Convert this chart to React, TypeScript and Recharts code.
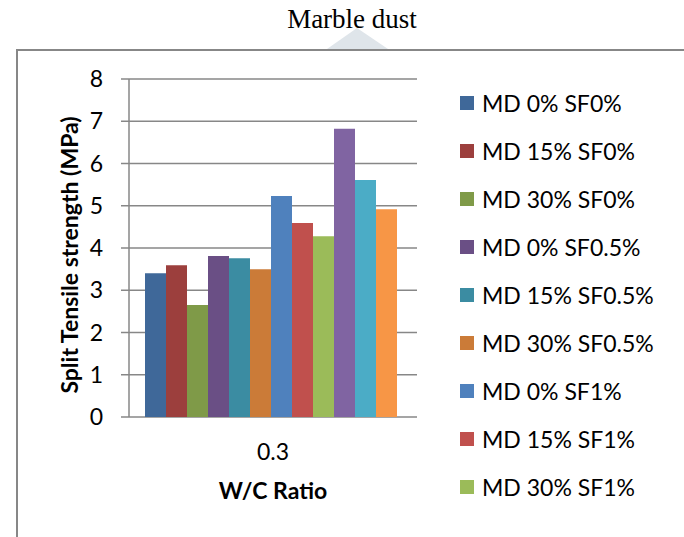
import React from "react";
import { BarChart, Bar, XAxis, YAxis, CartesianGrid, Legend } from "recharts";

// W/C ratio categories
const categories = ["0.3"];

const seriesNames = [
  "MD 0% SF0%",
  "MD 15% SF0%",
  "MD 30% SF0%",
  "MD 0% SF0.5%",
  "MD 15% SF0.5%",
  "MD 30% SF0.5%",
  "MD 0% SF1%",
  "MD 15% SF1%",
  "MD 30% SF1%",
  "MD 0% SF1.5%",
  "MD 15% SF1.5%",
  "MD 30% SF1.5%",
];

// split tensile strength (MPa) at w/c 0.3
const seriesValues = [3.4, 3.59, 2.65, 3.81, 3.76, 3.5, 5.23, 4.59, 4.28, 6.82, 5.61, 4.92];

const seriesColors = [
  "#3f6899",
  "#9c3f3d",
  "#7f9a48",
  "#6a4f85",
  "#3b8ca2",
  "#cb7b38",
  "#4f81bd",
  "#c0504d",
  "#9bbb59",
  "#8064a2",
  "#4bacc6",
  "#f79646",
];

const yTicks = [0, 1, 2, 3, 4, 5, 6, 7, 8];

// the legend box only has room for the first 9 entries (rest truncated like the original)
const LEGEND_ROWS = 9;

const FONT = "Lato, 'Open Sans', sans-serif";
const FS = 23;
const GRID = "#878787";

const chartData = categories.map((wc, ci) => {
  const row: Record<string, string | number> = { wc };
  seriesNames.forEach((_, i) => {
    row[`s${i}`] = seriesValues[i + ci * seriesNames.length];
  });
  return row;
});

function YLabel() {
  return (
    <text
      x={69}
      y={255}
      transform="rotate(-90 69 255)"
      textAnchor="middle"
      dominantBaseline="central"
      fontFamily={FONT}
      fontWeight={700}
      fontSize={FS}
      fill="#000"
    >
      Split Tensile strength (MPa)
    </text>
  );
}

function LegendList() {
  return (
    <div style={{ fontFamily: FONT, fontSize: FS, color: "#000" }}>
      {seriesNames.slice(0, LEGEND_ROWS).map((name, i) => (
        <div
          key={name}
          style={{ height: 48, display: "flex", alignItems: "center" }}
        >
          <span
            style={{
              width: 14,
              height: 14,
              background: seriesColors[i],
              display: "inline-block",
              marginRight: 8,
            }}
          />
          <span>{name}</span>
        </div>
      ))}
    </div>
  );
}

export default function App() {
  return (
    <div
      style={{
        position: "absolute",
        left: 0,
        top: 0,
        width: 684,
        height: 537,
        overflow: "hidden",
        background: "#fff",
      }}
    >
      <svg
        width={684}
        height={60}
        style={{ position: "absolute", left: 0, top: 0 }}
      >
        <polygon points="327,49 357,28 388,49" fill="#dfe5ea" />
        <text
          x={352}
          y={28}
          textAnchor="middle"
          fontFamily="'Liberation Serif', 'Times New Roman', serif"
          fontSize={27}
          fill="#000"
        >
          Marble dust
        </text>
      </svg>
      <div
        style={{
          position: "absolute",
          left: 16,
          top: 49,
          width: 700,
          height: 600,
          borderLeft: `2px solid ${GRID}`,
          borderTop: `2px solid ${GRID}`,
        }}
      />
      <div style={{ position: "absolute", left: 0, top: 0 }}>
        <BarChart
          width={684}
          height={537}
          data={chartData}
          margin={{ top: 79, right: 43, bottom: 0, left: 0 }}
          barCategoryGap={16}
          barGap={0}
        >
          <CartesianGrid vertical={false} stroke={GRID} strokeWidth={1.5} />
          <XAxis
            xAxisId="edges"
            type="number"
            domain={[0, 1]}
            ticks={[0, 1]}
            tick={false}
            tickSize={7}
            height={0}
            stroke={GRID}
            strokeWidth={1.5}
          />
          <XAxis
            dataKey="wc"
            axisLine={false}
            tickLine={false}
            tickSize={0}
            tickMargin={27}
            height={120}
            tick={{ fontFamily: FONT, fontSize: FS, fill: "#000" }}
            label={{
              value: "W/C Ratio",
              position: "insideTop",
              offset: 66,
              fontFamily: FONT,
              fontWeight: 700,
              fontSize: FS,
              fill: "#000",
            }}
          />
          <YAxis
            width={129}
            domain={[0, 8]}
            ticks={yTicks}
            interval={0}
            stroke={GRID}
            strokeWidth={1.5}
            tickSize={8}
            tickMargin={18}
            tick={{ fontFamily: FONT, fontSize: FS, fill: "#000" }}
            label={<YLabel />}
          />
          <Legend
            layout="vertical"
            verticalAlign="top"
            align="right"
            content={<LegendList />}
            wrapperStyle={{
              position: "absolute",
              left: 460,
              top: 79,
              width: 224,
              height: 432,
              overflow: "hidden",
            }}
          />
          {seriesNames.map((name, i) => (
            <Bar
              key={name}
              dataKey={`s${i}`}
              name={name}
              fill={seriesColors[i]}
              isAnimationActive={false}
            />
          ))}
        </BarChart>
      </div>
    </div>
  );
}
